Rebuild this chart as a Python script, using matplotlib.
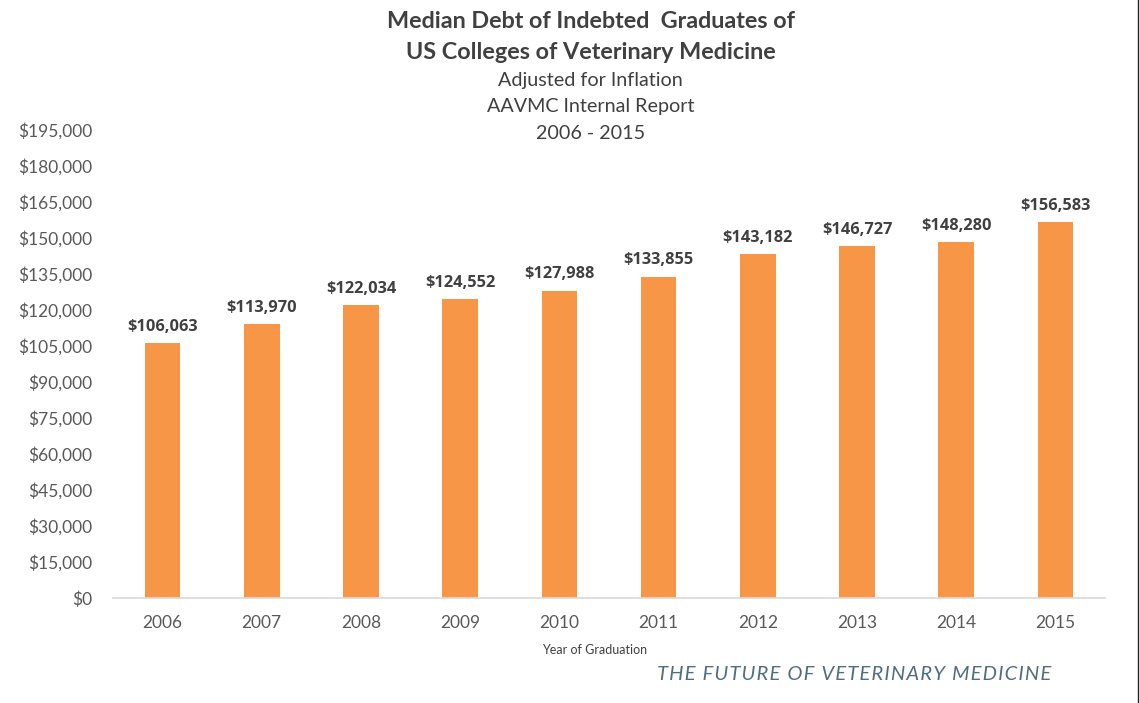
import matplotlib.pyplot as plt
from matplotlib.lines import Line2D

years = ['2006', '2007', '2008', '2009', '2010', '2011', '2012', '2013', '2014', '2015']
median_debt = [106063, 113970, 122034, 124552, 127988, 133855, 143182, 146727, 148280, 156583]
y_ticks = list(range(0, 195001, 15000))

bar_color = '#F79646'
text_color = '#404040'
tick_color = '#595959'


def main():
	fig = plt.figure(figsize=(11.4, 7.03), dpi=100)
	ax = fig.add_axes([0.0991, 0.1494, 0.8702, 0.6657])

	x = range(len(years))
	bars = ax.bar(x, median_debt, width=0.36, color=bar_color, zorder=2)
	for b, v in zip(bars, median_debt):
		ax.annotate(f"${v:,}", (b.get_x() + b.get_width() / 2, v), xytext=(0, 6),
			textcoords='offset points', ha='center', va='bottom',
			fontsize=11.8, fontweight='bold', family='Open Sans', color=text_color)

	ax.set_xlim(-0.5, len(years) - 0.5)
	ax.set_ylim(0, 195000)
	ax.set_xticks(list(x))
	ax.set_xticklabels(years, family='Lato', fontsize=12.5, color=tick_color)
	ax.set_yticks(y_ticks)
	ax.set_yticklabels([f"${t:,}" for t in y_ticks], family='Lato', fontsize=12.5, color=tick_color)
	ax.tick_params(length=0)
	ax.tick_params(axis='x', pad=12)
	ax.tick_params(axis='y', pad=15)
	for s in ['top', 'right', 'left']:
		ax.spines[s].set_visible(False)
	ax.spines['bottom'].set_color('#D9D9D9')
	ax.spines['bottom'].set_linewidth(1.2)
	ax.set_xlabel('Year of Graduation', family='Lato', fontsize=9, color=text_color)
	ax.xaxis.set_label_coords(0.485, -0.098)

	fig.text(0.518, 0.970, 'Median Debt of Indebted  Graduates of', ha='center', va='center',
		family='Lato', fontweight='bold', fontsize=16.8, color=text_color)
	fig.text(0.518, 0.925, 'US Colleges of Veterinary Medicine', ha='center', va='center',
		family='Lato', fontweight='bold', fontsize=16.8, color=text_color)
	fig.text(0.518, 0.886, 'Adjusted for Inflation', ha='center', va='center',
		family='Lato', fontsize=14.2, color=text_color)
	fig.text(0.518, 0.848, 'AAVMC Internal Report', ha='center', va='center',
		family='Lato', fontsize=14.2, color=text_color)
	fig.text(0.518, 0.810, '2006 - 2015', ha='center', va='center',
		family='Lato', fontsize=14.2, color=text_color)

	# spaced-out footer, hair spaces between letters
	footer = '\u200a'.join('THE FUTURE OF VETERINARY MEDICINE')
	fig.text(0.749, 0.040, footer, ha='center', va='center',
		family=['Lato', 'DejaVu Sans'], style='italic',
		fontsize=14.6, color='#4F6E80')

	fig.add_artist(Line2D([0.9985, 0.9985], [0, 1], transform=fig.transFigure, color='#222222', lw=1))

	fig.savefig('out.png', dpi=100)


if __name__ == '__main__':
	main()
